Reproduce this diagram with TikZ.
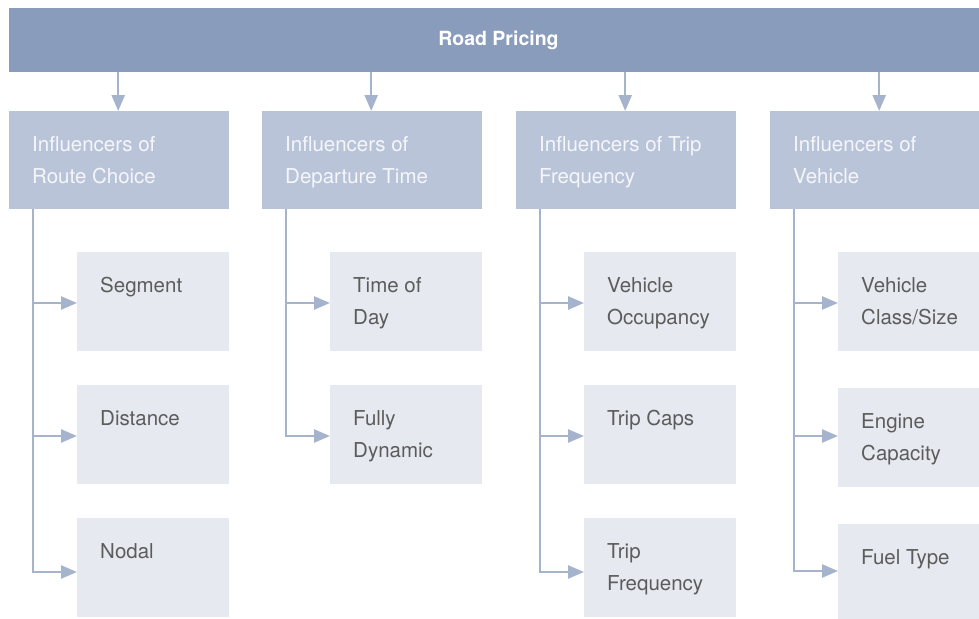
\documentclass[tikz,border=0pt]{standalone}
\usepackage{fontspec}
\setmainfont{TeX Gyre Heros}
\usetikzlibrary{arrows.meta}
\definecolor{barc}{HTML}{8A9CBC}
\definecolor{lonec}{HTML}{BAC4D9}
\definecolor{ltwoc}{HTML}{E6E9F0}
\definecolor{linec}{HTML}{A6B3CC}
\definecolor{lonet}{HTML}{F4F6FA}
\definecolor{ltwot}{HTML}{5C5C5C}
\tikzset{
  topbar/.style={fill=barc, draw=none, anchor=north west, inner sep=0, minimum width=990pt, minimum height=64pt},
  lone/.style={fill=lonec, draw=none, anchor=north west, inner sep=0, minimum width=220pt, minimum height=98pt},
  ltwo/.style={fill=ltwoc, draw=none, anchor=north west, inner sep=0, minimum width=152pt, minimum height=99pt},
  txtone/.style={anchor=north west, inner sep=0, align=left, font=\fontsize{20.5}{32}\selectfont, text=lonet},
  txttwo/.style={anchor=north west, inner sep=0, align=left, font=\fontsize{20.5}{32}\selectfont, text=ltwot},
  conn/.style={draw=linec, line width=2.5pt, -{Triangle[length=16pt,width=13pt]}},
}
\newcommand{\lh}{\rule{0pt}{16pt}}
\begin{document}
\begin{tikzpicture}[x=1pt,y=-1pt]
\useasboundingbox (0,0) rectangle (979,618);
% top bar
\node[topbar] (bar) at (9,8) {};
\node[font=\fontsize{19.5}{24}\selectfont\bfseries, text=white, inner sep=0] (title) at (498.5,40) {Road Pricing};
% level 1
\node[lone] (c1) at (9,111) {};
\node[lone] (c2) at (262,111) {};
\node[lone] (c3) at (516,111) {};
\node[lone] (c4) at (770,111) {};
\node[txtone] (t1) at (32,135) {\lh Influencers of\\Route Choice};
\node[txtone] (t2) at (285,135) {\lh Influencers of\\Departure Time};
\node[txtone] (t3) at (539,135) {\lh Influencers of Trip\\Frequency};
\node[txtone] (t4) at (793,135) {\lh Influencers of\\Vehicle};
% level 2 column 1
\node[ltwo] (a1) at (77,252) {};
\node[ltwo] (a2) at (77,385) {};
\node[ltwo] (a3) at (77,518) {};
% column 2
\node[ltwo] (b1) at (330,252) {};
\node[ltwo] (b2) at (330,385) {};
% column 3
\node[ltwo] (d1) at (584,252) {};
\node[ltwo] (d2) at (584,385) {};
\node[ltwo] (d3) at (584,518) {};
% column 4
\node[ltwo] (e1) at (838,252) {};
\node[ltwo] (e2) at (838,388) {};
\node[ltwo, minimum height=100pt] (e3) at (838,524) {};
% level 2 texts
\node[txttwo] (ta1) at (100,276) {\lh Segment};
\node[txttwo] (ta2) at (100,409) {\lh Distance};
\node[txttwo] (ta3) at (100,542) {\lh Nodal};
\node[txttwo] (tb1) at (353,276) {\lh Time of\\Day};
\node[txttwo] (tb2) at (353,409) {\lh Fully\\Dynamic};
\node[txttwo] (td1) at (607,276) {\lh Vehicle\\Occupancy};
\node[txttwo] (td2) at (607,409) {\lh Trip Caps};
\node[txttwo] (td3) at (607,542) {\lh Trip\\Frequency};
\node[txttwo] (te1) at (861,276) {\lh Vehicle\\Class/Size};
\node[txttwo] (te2) at (861,412) {\lh Engine\\Capacity};
\node[txttwo] (te3) at (861,548) {\lh Fuel Type};
% connectors from bar
\foreach \c in {c1,c2,c3,c4}{
  \draw[conn] ([xshift=-1pt]\c.north |- bar.south) -- ([xshift=-1pt]\c.north);
}
% branches
\foreach \c/\k/\o in {c1/a1/51,c1/a2/51,c1/a3/54,c2/b1/51,c2/b2/51,c3/d1/51,c3/d2/51,c3/d3/54,c4/e1/51,c4/e2/48,c4/e3/47}{
  \draw[conn] ([xshift=24pt]\c.south west) |- ([yshift=-\o pt]\k.north west);
}
\end{tikzpicture}
\end{document}
